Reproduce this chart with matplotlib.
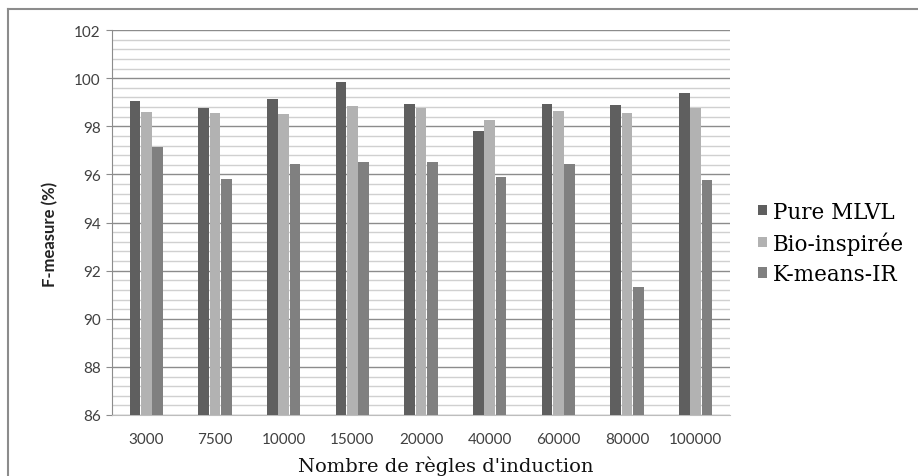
import numpy as np
import matplotlib.pyplot as plt
from matplotlib.lines import Line2D
from matplotlib.patches import Patch

categories = ["3000", "7500", "10000", "15000", "20000", "40000", "60000", "80000", "100000"]
pure_mlvl = [99.05, 98.75, 99.12, 99.82, 98.92, 97.82, 98.92, 98.88, 99.38]
bio_inspiree = [98.58, 98.55, 98.52, 98.85, 98.75, 98.25, 98.65, 98.55, 98.77]
kmeans_ir = [97.12, 95.82, 96.43, 96.52, 96.52, 95.9, 96.43, 91.33, 95.75]
series_names = ["Pure MLVL", "Bio-inspirée", "K-means-IR"]
colors = ["#5f5f5f", "#b2b2b2", "#808080"]

fig = plt.figure(figsize=(9.18, 4.77), dpi=100)
ax = fig.add_axes([112 / 918, 61 / 477, 618 / 918, 385 / 477])

x = np.arange(len(categories))
w = 0.165
for i, (vals, c) in enumerate(zip([pure_mlvl, bio_inspiree, kmeans_ir], colors)):
    ax.bar(x + (i - 1) * w, np.array(vals) - 86, bottom=86, width=w * 0.94,
           color=c, zorder=3, label=series_names[i])

ax.set_xlim(-0.5, len(categories) - 0.5)
ax.set_ylim(86, 102)
ax.set_yticks(np.arange(86, 103, 2))
ax.set_yticks(np.arange(86, 102.01, 0.4), minor=True)
ax.grid(axis="y", which="major", color="#8c8c8c", linewidth=1.0, zorder=0)
ax.grid(axis="y", which="minor", color="#d0d0d0", linewidth=1.0, zorder=0)
ax.tick_params(axis="y", which="minor", length=0)
ax.tick_params(axis="y", which="major", length=4, color="#8c8c8c",
               labelsize=11, labelcolor="#404040", pad=4)
ax.set_xticks(x)
ax.set_xticklabels(categories)
ax.tick_params(axis="x", length=0, labelsize=11, labelcolor="#404040", pad=12)
for lab in ax.get_xticklabels() + ax.get_yticklabels():
    lab.set_family("Lato")

for s in ["top", "right"]:
    ax.spines[s].set_visible(False)
ax.spines["left"].set_color("#8c8c8c")
ax.spines["bottom"].set_color("#bdbdbd")

fig.text(50 / 918, 1 - 234 / 477, "F-measure (%)", rotation=90, ha="center", va="center",
         fontsize=12, fontweight="bold", family="Lato", color="#222222")
fig.text(446 / 918, 1 - 466 / 477, "Nombre de règles d'induction", ha="center", va="center",
         fontsize=14, family="DejaVu Serif", color="#111111")

handles = [Patch(facecolor=c, edgecolor="none") for c in colors]
fig.legend(handles, series_names, loc="center left", bbox_to_anchor=(758 / 918, 1 - 244 / 477),
           frameon=False, prop={"family": "DejaVu Serif", "size": 15.5},
           handlelength=0.4, handleheight=0.4, handletextpad=0.3, labelspacing=0.4,
           borderaxespad=0, borderpad=0)

# outer frame of the chart (cut at right and bottom edges)
fig.add_artist(Line2D([8 / 918, 1], [1 - 10 / 477, 1 - 10 / 477], transform=fig.transFigure,
                      color="#8c8c8c", linewidth=1.5))
fig.add_artist(Line2D([8 / 918, 8 / 918], [0, 1 - 10 / 477], transform=fig.transFigure,
                      color="#8c8c8c", linewidth=1.5))

fig.savefig("out.png", dpi=100)
